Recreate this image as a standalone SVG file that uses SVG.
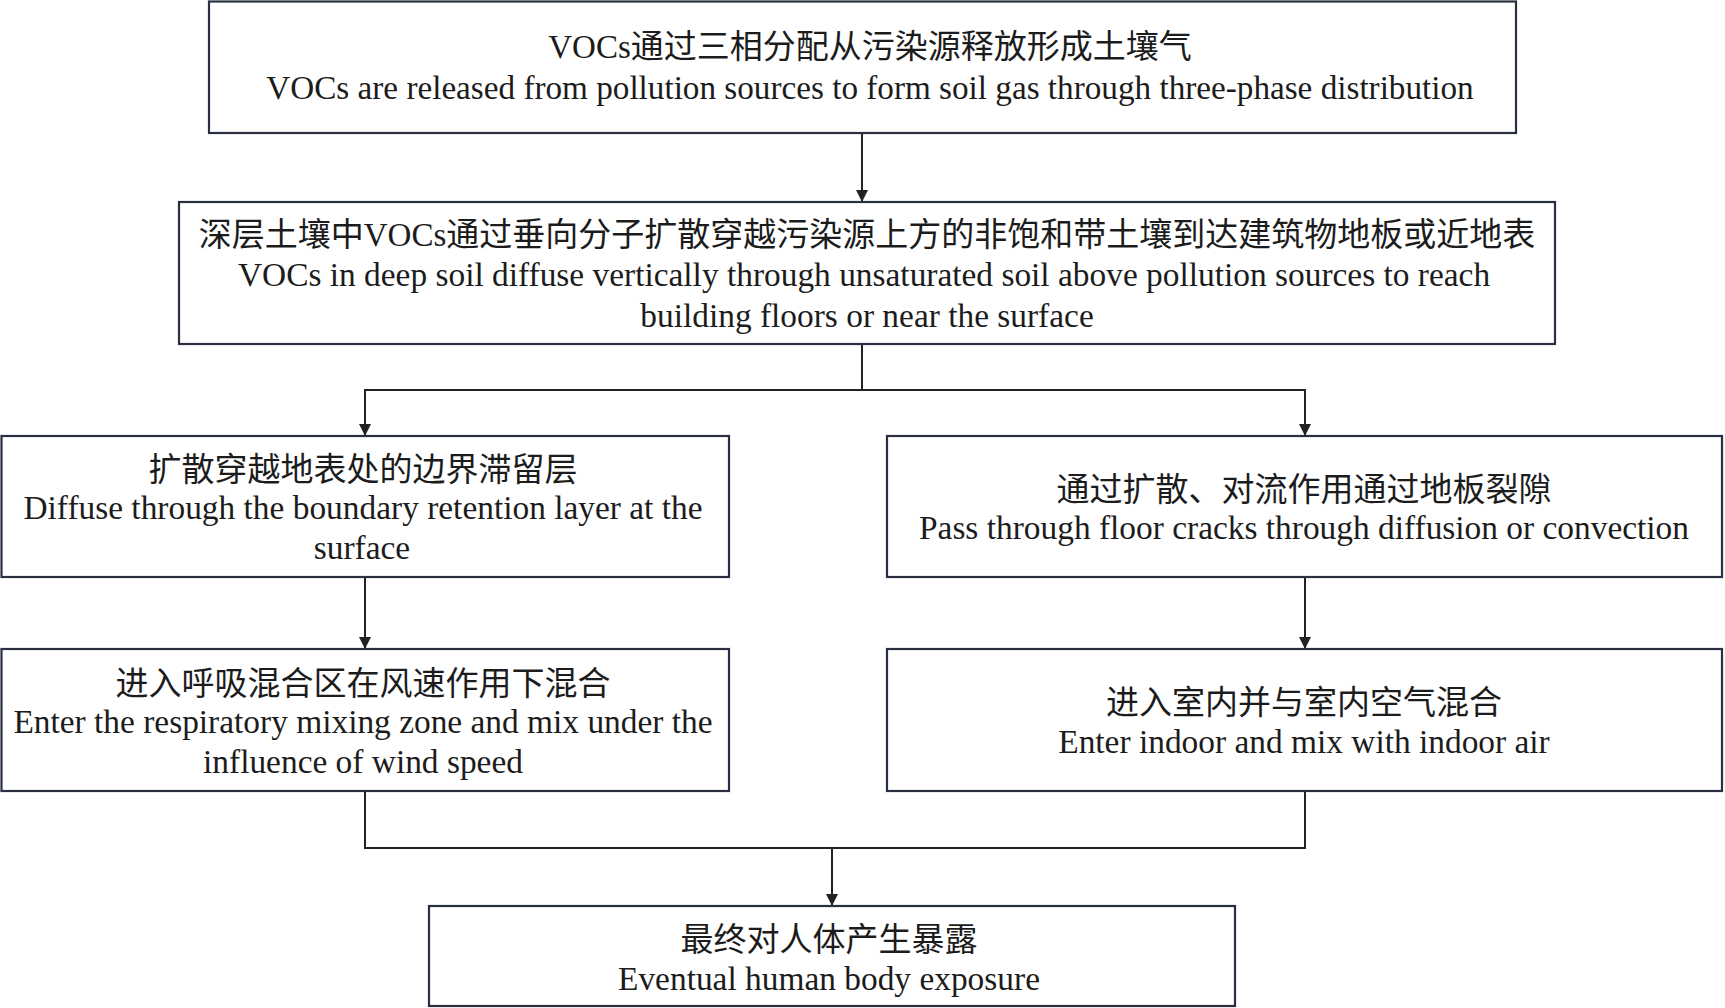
<svg xmlns="http://www.w3.org/2000/svg" width="1725" height="1008" viewBox="0 0 1725 1008">
<defs>
<style>
.box{fill:#ffffff;stroke:#2a3042;stroke-width:2.2}
.t{font-family:"Liberation Serif","Times New Roman","Noto Sans CJK SC",serif;font-size:33px;fill:#1c1c1c;text-anchor:middle}
.e{font-size:33.4px}
.c{fill:none;stroke:#222222;stroke-width:2}
</style>
<marker id="ah" viewBox="0 0 12 12" refX="12" refY="6" markerWidth="13" markerHeight="12" markerUnits="userSpaceOnUse" orient="auto">
<path d="M0,0 L12,6 L0,12 z" fill="#222222"/>
</marker>
</defs>
<rect width="1725" height="1008" fill="#ffffff"/>
<g id="connectors">
<path class="c" d="M862,133 V202" marker-end="url(#ah)"/>
<path class="c" d="M862,344 V390"/>
<path class="c" d="M862,390 H365 V436" marker-end="url(#ah)"/>
<path class="c" d="M862,390 H1305 V436" marker-end="url(#ah)"/>
<path class="c" d="M365,577 V649" marker-end="url(#ah)"/>
<path class="c" d="M1305,577 V649" marker-end="url(#ah)"/>
<path class="c" d="M365,791 V848 H1305 V791"/>
<path class="c" d="M832,848 V906" marker-end="url(#ah)"/>
</g>
<g id="n1">
<rect class="box" x="209" y="1.5" width="1307" height="131.5"/>
<text class="t" x="870" y="58">VOCs通过三相分配从污染源释放形成土壤气</text>
<text class="t" x="870" y="98.5" style="font-size:33.2px">VOCs are released from pollution sources to form soil gas through three-phase distribution</text>
</g>
<g id="n2">
<rect class="box" x="179" y="202" width="1376" height="142"/>
<text class="t" x="867" y="246">深层土壤中VOCs通过垂向分子扩散穿越污染源上方的非饱和带土壤到达建筑物地板或近地表</text>
<text class="t e" x="864" y="286">VOCs in deep soil diffuse vertically through unsaturated soil above pollution sources to reach</text>
<text class="t e" x="867" y="327">building floors or near the surface</text>
</g>
<g id="n3">
<rect class="box" x="1.5" y="436" width="727.5" height="141"/>
<text class="t" x="363" y="481">扩散穿越地表处的边界滞留层</text>
<text class="t e" x="363" y="519">Diffuse through the boundary retention layer at the</text>
<text class="t e" x="362" y="559">surface</text>
</g>
<g id="n4">
<rect class="box" x="887" y="436" width="835" height="141"/>
<text class="t" x="1304" y="501">通过扩散、对流作用通过地板裂隙</text>
<text class="t e" x="1304" y="539">Pass through floor cracks through diffusion or convection</text>
</g>
<g id="n5">
<rect class="box" x="1.5" y="649" width="727.5" height="142"/>
<text class="t" x="363" y="695">进入呼吸混合区在风速作用下混合</text>
<text class="t e" x="363" y="733">Enter the respiratory mixing zone and mix under the</text>
<text class="t e" x="363" y="773">influence of wind speed</text>
</g>
<g id="n6">
<rect class="box" x="887" y="649" width="835" height="142"/>
<text class="t" x="1304" y="714">进入室内并与室内空气混合</text>
<text class="t e" x="1304" y="753">Enter indoor and mix with indoor air</text>
</g>
<g id="n7">
<rect class="box" x="429" y="906" width="806" height="100"/>
<text class="t" x="829" y="951">最终对人体产生暴露</text>
<text class="t e" x="829" y="990">Eventual human body exposure</text>
</g>
</svg>
